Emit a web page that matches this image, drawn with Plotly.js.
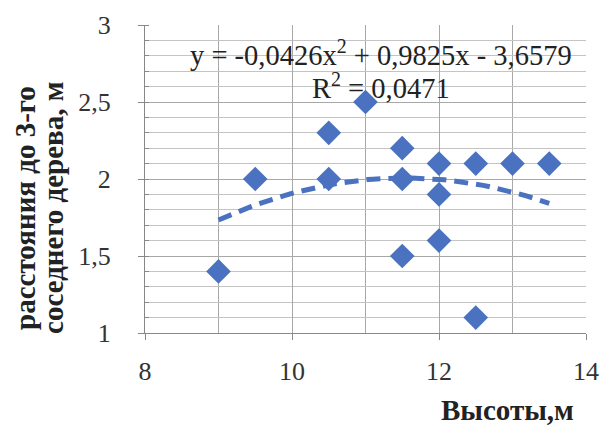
<!DOCTYPE html>
<html>
<head>
<meta charset="utf-8">
<script src="https://cdn.plot.ly/plotly-3.0.1.min.js"></script>
<style>html,body{margin:0;padding:0;background:#fff;} #chart{width:602px;height:432px;}</style>
</head>
<body>
<div id="chart"></div>
<script>
// Data
const heights   = [9, 9.5, 10.5, 10.5, 11, 11.5, 11.5, 11.5, 12, 12, 12, 12.5, 12.5, 13, 13.5];
const distances = [1.4, 2.0, 2.3, 2.0, 2.5, 2.2, 2.0, 1.5, 2.1, 1.9, 1.6, 2.1, 1.1, 2.1, 2.1];
// Polynomial trendline coefficients shown on the chart: y = a*x^2 + b*x + c
const trendCoef = [-0.0426, 0.9825, -3.6579];
const trendRange = [9, 13.5];
// Axis scales: [min, max, label step, grid step]
const xScale = [8, 14, 2, 1];
const yScale = [1, 3, 0.5, 0.1];

const blue = '#4a72c0';
const serif = 'Liberation Serif';

const tx = [], ty = [];
const n = 60;
for (let i = 0; i <= n; i++) {
  const x = trendRange[0] + (trendRange[1] - trendRange[0]) * i / n;
  tx.push(x);
  ty.push(trendCoef[0] * x * x + trendCoef[1] * x + trendCoef[2]);
}

const traces = [
  {x: tx, y: ty, mode: 'lines', type: 'scatter', hoverinfo: 'skip',
   line: {color: blue, width: 5, dash: '14px,8px'}, showlegend: false},
  {x: heights, y: distances, mode: 'markers', type: 'scatter',
   marker: {symbol: 'diamond', size: 19, color: blue}, showlegend: false}
];

const layout = {
  width: 602, height: 432,
  margin: {l: 145, r: 16, t: 25, b: 99},
  separators: ', ',
  xaxis: {
    range: [xScale[0], xScale[1]], tick0: xScale[0], dtick: xScale[2],
    gridcolor: '#a8a8a8',
    minor: {dtick: xScale[3], showgrid: true, gridcolor: '#a8a8a8'},
    showline: true, linecolor: '#888',
    ticks: 'outside', ticklen: 6, tickcolor: '#888',
    zeroline: false, tickfont: {family: serif, size: 26, color: '#333'},
    ticklabelstandoff: 9
  },
  yaxis: {
    range: [yScale[0], yScale[1]], tick0: yScale[0], dtick: yScale[2],
    gridcolor: '#a8a8a8',
    minor: {dtick: yScale[3], showgrid: true, gridcolor: '#c4c4c4', ticks: 'inside', ticklen: 4, tickcolor: '#888'},
    showline: true, linecolor: '#888',
    ticks: 'outside', ticklen: 6, tickcolor: '#888',
    zeroline: false, tickfont: {family: serif, size: 26, color: '#333'},
    ticklabelstandoff: 22
  },
  annotations: [
    {xref: 'x', yref: 'y', x: 11.21, y: 2.815, xanchor: 'center', yanchor: 'middle', showarrow: false,
     text: 'y = -0,0426x<sup>2</sup> + 0,9825x - 3,6579',
     font: {family: serif, size: 28.5, color: '#222'}},
    {xref: 'x', yref: 'y', x: 11.21, y: 2.607, xanchor: 'center', yanchor: 'middle', showarrow: false,
     text: 'R<sup>2</sup> = 0,0471',
     font: {family: serif, size: 28.5, color: '#222'}},
    {xref: 'paper', yref: 'paper', x: 0, y: 0.406, xshift: -120, xanchor: 'center', yanchor: 'middle',
     textangle: -90, showarrow: false,
     text: 'расстояния до 3-го',
     font: {family: serif, size: 29, color: '#222', weight: 'bold'}},
    {xref: 'paper', yref: 'paper', x: 0, y: 0.406, xshift: -92, xanchor: 'center', yanchor: 'middle',
     textangle: -90, showarrow: false,
     text: 'соседнего дерева, м',
     font: {family: serif, size: 29, color: '#222', weight: 'bold'}},
    {xref: 'paper', yref: 'paper', x: 0.821, y: 0, yshift: -77, xanchor: 'center', yanchor: 'middle',
     showarrow: false,
     text: 'Высоты,м', font: {family: serif, size: 29, color: '#222', weight: 'bold'}}
  ]
};

Plotly.newPlot('chart', traces, layout, {displayModeBar: false, staticPlot: true});
</script>
</body>
</html>
